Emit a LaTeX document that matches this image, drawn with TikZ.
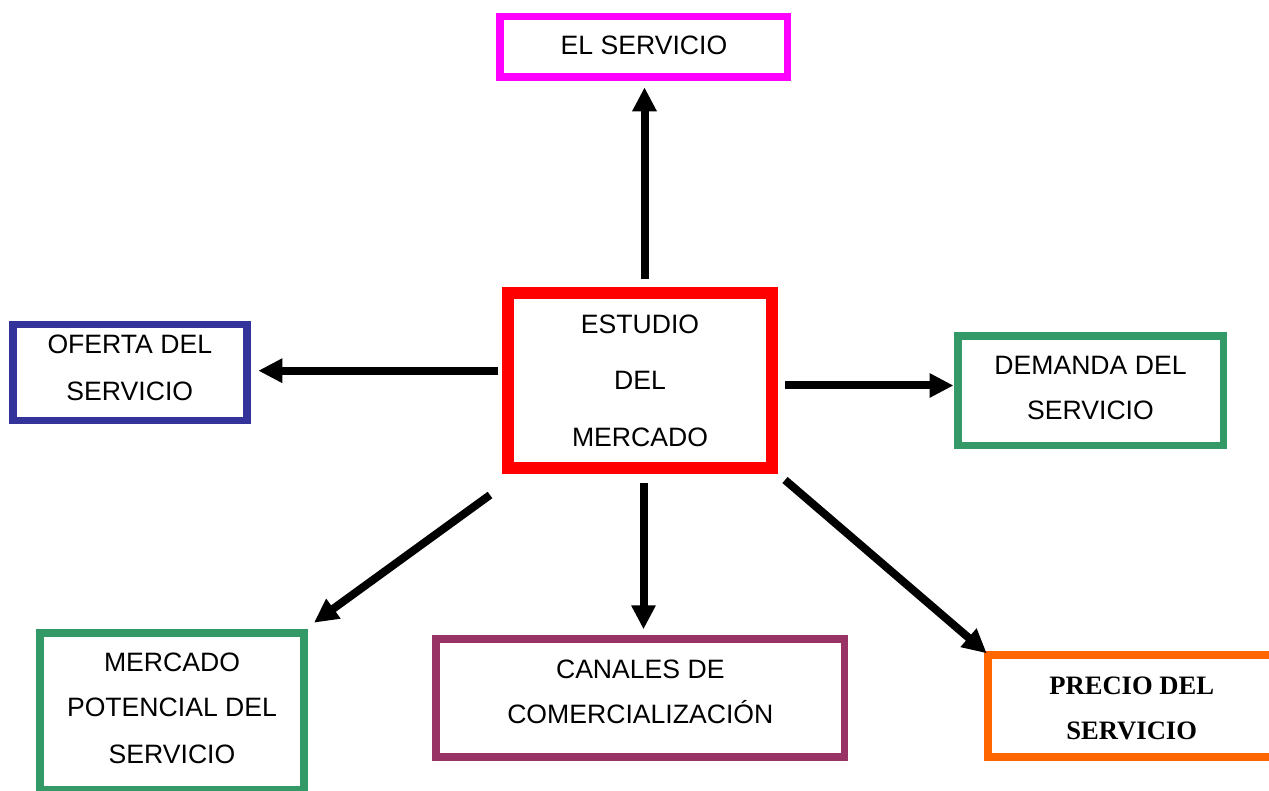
\documentclass[tikz,border=0pt]{standalone}
\usepackage{fontspec}
\setmainfont{Liberation Sans}
\newfontfamily\serifbold{Liberation Serif}
\usetikzlibrary{arrows.meta}
\definecolor{cMag}{HTML}{FF00FF}
\definecolor{cRed}{HTML}{FF0000}
\definecolor{cBlue}{HTML}{333399}
\definecolor{cGreen}{HTML}{339966}
\definecolor{cPurple}{HTML}{993366}
\definecolor{cOrange}{HTML}{FF6600}
\tikzset{
  boxline/.style={line width=7.8pt},
  lbl/.style={inner sep=0pt, anchor=base, font=\fontsize{26.6}{30}\selectfont},
  lblb/.style={inner sep=0pt, anchor=base, font=\fontsize{26.6}{30}\selectfont\serifbold\bfseries},
  arr/.style={line width=8pt, -{Triangle[length=24pt,width=23pt]}},
}
\begin{document}
\begin{tikzpicture}[x=1pt,y=-1pt]
\useasboundingbox (0,0) rectangle (1269,791);
% boxes
\draw[boxline, cMag, line width=7.5pt] (500,16.3) rectangle (787.5,77.2);
\draw[cRed, line width=12pt] (507.8,293) rectangle (771.8,468.3);
\draw[boxline, cBlue] (13.2,324.5) rectangle (246.7,420.5);
\draw[boxline, cGreen] (958,336.2) rectangle (1223.5,445.5);
\draw[boxline, cGreen] (40,633) rectangle (304,790);
\draw[boxline, cPurple] (436.2,638.8) rectangle (844.5,757);
\draw[boxline, cOrange] (987.8,655) rectangle (1275.5,756.7);
% texts
\node[lbl] (t-serv) at (644,55) {EL SERVICIO};
\node[lbl] (t-c1) at (640,333.3) {ESTUDIO};
\node[lbl] (t-c2) at (640,390) {DEL};
\node[lbl] (t-c3) at (640,446.7) {MERCADO};
\node[lbl] (t-o1) at (129.8,353.3) {OFERTA DEL};
\node[lbl] (t-o2) at (129.8,400) {SERVICIO};
\node[lbl] (t-d1) at (1090.5,374.3) {DEMANDA DEL};
\node[lbl] (t-d2) at (1090.5,420) {SERVICIO};
\node[lbl] (t-p1) at (172,671) {MERCADO};
\node[lbl] (t-p2) at (172,716.7) {POTENCIAL DEL};
\node[lbl] (t-p3) at (172,763) {SERVICIO};
\node[lbl] (t-k1) at (640.3,678.3) {CANALES DE};
\node[lbl] (t-k2) at (640.3,723.3) {COMERCIALIZACIÓN};
\node[lblb] (t-r1) at (1131.7,694) {PRECIO DEL};
\node[lblb] (t-r2) at (1131.7,739.3) {SERVICIO};
% arrow endpoints
\coordinate (up-s) at (644.5,279.3);
\coordinate (up-e) at (644.5,87.3);
\coordinate (lf-s) at (498.3,370.7);
\coordinate (lf-e) at (258.3,370.7);
\coordinate (rt-s) at (785,385.5);
\coordinate (rt-e) at (953.5,385.5);
\coordinate (dn-s) at (643.5,483);
\coordinate (dn-e) at (643.5,629.3);
\coordinate (dl-s) at (490,495);
\coordinate (dl-e) at (314,622.7);
\coordinate (dr-s) at (785,480);
\coordinate (dr-e) at (986.7,653.3);
\draw[arr] (up-s) -- (up-e);
\draw[arr] (lf-s) -- (lf-e);
\draw[arr] (rt-s) -- (rt-e);
\draw[arr] (dn-s) -- (dn-e);
\draw[arr] (dl-s) -- (dl-e);
\draw[arr] (dr-s) -- (dr-e);
\end{tikzpicture}
\end{document}
